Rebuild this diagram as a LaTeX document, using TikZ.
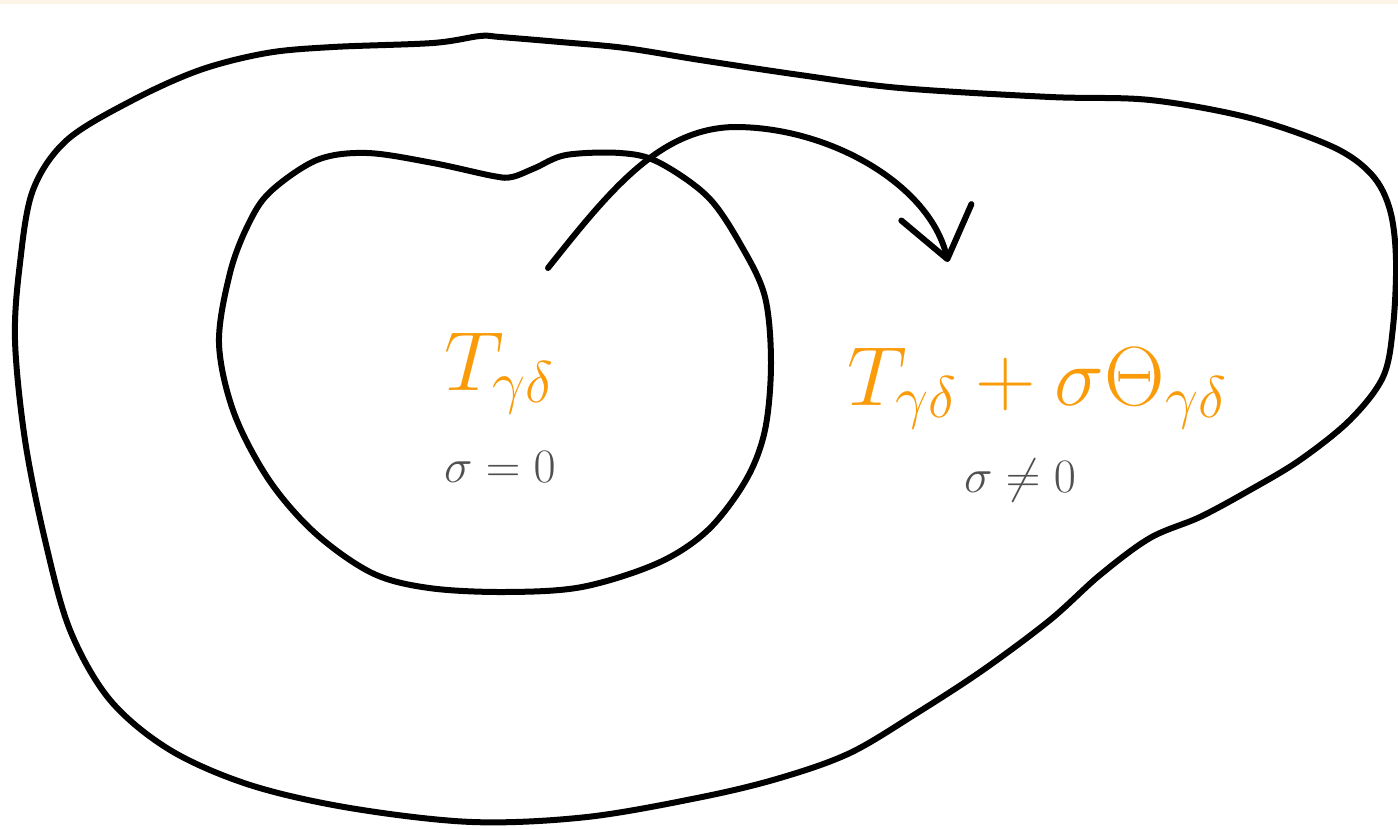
\RequirePackage{fix-cm}
\documentclass[tikz,border=0pt]{standalone}
\usepackage{xcolor}
\usetikzlibrary{arrows.meta,positioning}
\definecolor{tensororange}{RGB}{250,155,10}
\definecolor{condgray}{RGB}{80,80,80}
\definecolor{cream}{RGB}{253,246,232}

\begin{document}
\begin{tikzpicture}[x=0.5pt,y=-0.5pt,blob/.style={draw=black,line width=3pt,line cap=round,line join=round},flow/.style={line width=3pt,line cap=round,-{Straight Barb[length=24pt,width=36pt,round]}},tensor/.style={text=tensororange,font=\fontsize{42}{50}\selectfont,anchor=base,inner sep=0pt},cond/.style={text=condgray,font=\fontsize{24}{28}\selectfont,anchor=base,inner sep=0pt}]
\useasboundingbox (0,0) rectangle (1398,829);
\fill[cream] (0,0) rectangle (1398,4);
% outer region (sigma /= 0)
\draw[blob] plot[smooth cycle,tension=0.55] coordinates {(500,37) (560,42) (625,48) (700,60) (800,75) (900,88) (1050,97) (1150,100) (1250,118) (1333,147) (1372,175) (1390,210) (1396,260) (1393,327) (1383,377) (1350,420) (1300,460) (1250,490) (1200,517) (1150,538) (1100,575) (1050,620) (983,670) (917,713) (850,753) (780,778) (702,797) (587,817) (472,822) (350,808) (250,785) (170,750) (110,700) (70,630) (45,540) (25,440) (15,340) (20,263) (33,190) (67,140) (133,100) (200,70) (267,53) (333,47) (433,43) (480,36)};
% inner region (sigma = 0)
\draw[blob] plot[smooth cycle,tension=0.55] coordinates {(219,343) (230,273) (248,225) (270,192) (317,160) (367,153) (433,163) (493,176) (512,177) (535,168) (566,155) (620,153) (658,162) (708,197) (742,247) (765,297) (771,363) (765,430) (746,480) (708,530) (658,563) (582,587) (505,592) (429,588) (372,573) (315,533) (269,480) (234,413)};
\node[tensor] (tin) at (499,390) {$T_{\gamma\delta}$};
\node[cond] (cin) at (500,482) {$\sigma=0$};
\node[tensor] (tout) at (1037,405) {$T_{\gamma\delta}+\sigma\Theta_{\gamma\delta}$};
\node[cond] (cout) at (1020,492) {$\sigma\neq0$};
\coordinate (start) at (548,268);
\coordinate (crest) at (735,127);
\coordinate (tip) at (948,262);
\draw[flow] (start) .. controls (610,190) and (660,128) .. (crest) .. controls (830,127) and (930,185) .. (tip);
\end{tikzpicture}
\end{document}
